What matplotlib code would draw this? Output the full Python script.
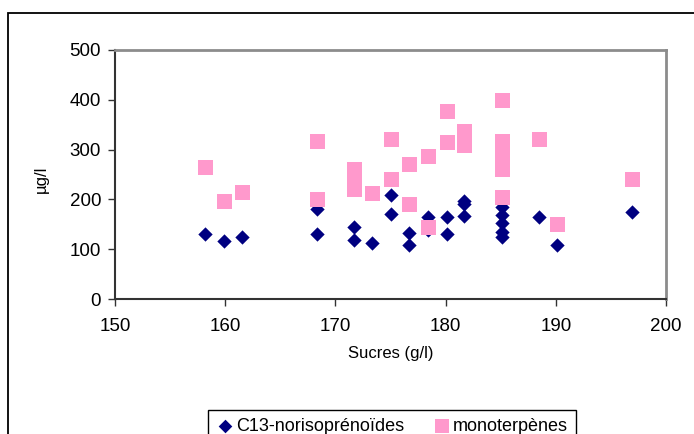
import matplotlib
matplotlib.use("Agg")
from matplotlib import pyplot as plt
from matplotlib.patches import Rectangle

plt.rcParams['font.family'] = ['Liberation Sans', 'DejaVu Sans']

# C13-norisoprénoïdes (sucres g/l, µg/l)
c13_x = [158.2, 159.9, 161.5, 168.3, 168.3, 171.7, 171.7, 173.3, 175.0, 175.0,
         176.7, 176.7, 178.4, 178.4, 180.1, 180.1, 181.7, 181.7, 181.7,
         185.1, 185.1, 185.1, 185.1, 185.1, 188.5, 190.1, 196.9]
c13_y = [130, 117, 124, 131, 180, 145, 118, 113, 209, 171,
         133, 109, 165, 139, 165, 131, 196, 190, 167,
         185, 168, 152, 135, 124, 164, 108, 174]

# monoterpènes
mono_x = [158.2, 159.9, 161.5, 168.3, 168.3, 171.7, 171.7, 171.7, 173.3,
          175.0, 175.0, 176.7, 176.7, 178.4, 178.4, 180.1, 180.1,
          181.7, 181.7, 181.7, 185.1, 185.1, 185.1, 185.1, 185.1, 185.1,
          188.5, 190.1, 196.9]
mono_y = [265, 197, 215, 317, 201, 262, 242, 221, 212,
          321, 241, 271, 190, 287, 145, 377, 316,
          338, 322, 309, 400, 318, 288, 275, 262, 205,
          321, 150, 240]

W, H = 694, 434
fig = plt.figure(figsize=(W / 100, H / 100), dpi=100)
ax = fig.add_axes([115 / W, 1 - 299 / H, 551 / W, 249 / H])

ax.scatter(c13_x, c13_y, marker='D', s=7.3 ** 2, color='#000080', linewidths=0,
           label='C13-norisoprénoïdes', zorder=3)
ax.scatter(mono_x, mono_y, marker='s', s=10.8 ** 2, color='#FF99CC', linewidths=0,
           label='monoterpènes', zorder=4)

ax.set_xlim(150, 200)
ax.set_ylim(0, 500)
ax.set_xticks(range(150, 201, 10))
ax.set_yticks(range(0, 501, 100))
ax.tick_params(axis='both', direction='out', length=5, width=1, color='#333333',
               labelsize=13.5)
ax.tick_params(axis='x', pad=9)
ax.tick_params(axis='y', pad=5)

for side in ['left', 'bottom']:
    ax.spines[side].set_color('#333333')
    ax.spines[side].set_linewidth(1.5)
for side in ['top', 'right']:
    ax.spines[side].set_color('#8c8c8c')
    ax.spines[side].set_linewidth(2)

ax.set_xlabel('Sucres (g/l)', fontsize=12)
ax.set_ylabel('µg/l', fontsize=12)
ax.xaxis.set_label_coords(0.5, -0.19)
ax.yaxis.set_label_coords(-0.12, 0.48)

leg = ax.legend(loc='upper center', bbox_to_anchor=(392 / W, 1 - 410 / H),
                bbox_transform=fig.transFigure, ncol=2, fontsize=13,
                frameon=True, fancybox=False, edgecolor='black', framealpha=1,
                handlelength=1.0, handletextpad=0.1, columnspacing=1.6,
                borderpad=0.45, borderaxespad=0, scatterpoints=1,
                markerscale=0.95)
leg.get_frame().set_linewidth(1)

# outer chart frame (runs off the right and bottom edges)
fig.patches.append(Rectangle((8 / W, -0.1), 1.2, 1.1 - 13 / H,
                             transform=fig.transFigure, fill=False,
                             edgecolor='black', linewidth=1.3))

fig.savefig('out.png', dpi=100)
